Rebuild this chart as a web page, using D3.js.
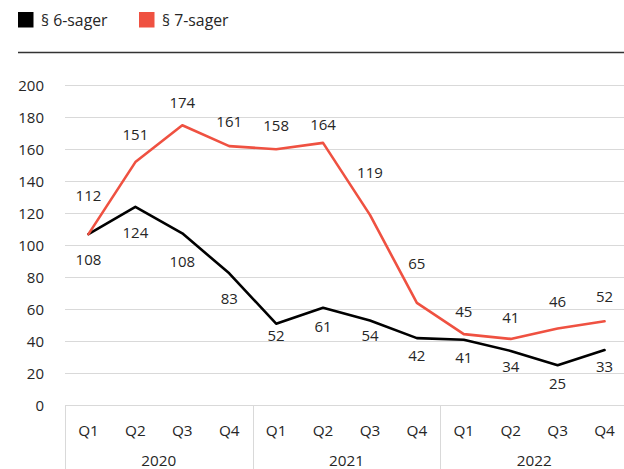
<!DOCTYPE html>
<html>
<head>
<meta charset="utf-8">
<script src="https://cdn.jsdelivr.net/npm/d3@7"></script>
<style>
  body { margin: 0; background: #fff; }
  svg text { font-family: "Open Sans", "Noto Sans", sans-serif; fill: #262626; }
</style>
</head>
<body>
<div id="chart"></div>
<script>
// data
const years      = ["2020", "2021", "2022"];
const quarters   = ["Q1", "Q2", "Q3", "Q4"];
const seriesNames = ["§ 6-sager", "§ 7-sager"];
const yTicks     = [0, 20, 40, 60, 80, 100, 120, 140, 160, 180, 200];

// line positions as drawn
const sag6 = [107, 124, 107.5, 82.5, 51, 61, 53, 42, 41, 34, 25, 34.5];
const sag7 = [107, 152, 175, 162, 160, 164, 119, 64, 44.5, 41.5, 48, 52.5];
// printed data labels
const sag6Labels = [108, 124, 108, 83, 52, 61, 54, 42, 41, 34, 25, 33];
const sag7Labels = [112, 151, 174, 161, 158, 164, 119, 65, 45, 41, 46, 52];
// label nudges (px), as placed in the source chart
const sag6Dy = [26, 26, 28, 25, 12, 19, 15, 18, 18, 16, 18, 17];
const sag7Dy = [-38, -27, -23, -24, -24, -18, -42, -39, -22, -21, -27, -25];

const colors = ["#000000", "#ef5141"];

const W = 624, H = 469;
const plotL = 65, plotR = 628, plotT = 85.3, plotB = 405.3;

const keys = [];
years.forEach(y => quarters.forEach(q => keys.push(y + " " + q)));

const svg = d3.select("#chart").append("svg")
  .attr("width", W).attr("height", H);

const x = d3.scaleBand().domain(keys).range([plotL, plotR]).padding(0);
const y = d3.scaleLinear().domain([0, 200]).range([plotB, plotT]);

// legend
const leg = svg.append("g").attr("class", "legend");
const legX = [18, 139];
seriesNames.forEach((name, i) => {
  leg.append("rect")
    .attr("x", legX[i]).attr("y", 12)
    .attr("width", 15.5).attr("height", 15.5)
    .attr("fill", colors[i]);
  leg.append("text")
    .attr("x", legX[i] + 23).attr("y", 20)
    .attr("dy", "0.35em")
    .style("font-size", "15.8px")
    .text(name);
});
svg.append("line")
  .attr("x1", 18).attr("x2", W)
  .attr("y1", 52.5).attr("y2", 52.5)
  .attr("stroke", "#333").attr("stroke-width", 1.3);

// gridlines
svg.append("g").selectAll("line")
  .data(yTicks)
  .join("line")
    .attr("x1", plotL).attr("x2", plotR)
    .attr("y1", d => Math.round(y(d)) + 0.5)
    .attr("y2", d => Math.round(y(d)) + 0.5)
    .attr("stroke", "#d9d9d9").attr("stroke-width", 1);

// y axis labels
const yAxis = svg.append("g")
  .attr("transform", "translate(" + 44 + ",0)")
  .call(d3.axisLeft(y).tickValues(yTicks).tickSize(0).tickPadding(0));
yAxis.select(".domain").remove();
yAxis.selectAll("text")
  .style("font-size", "15px")
  .attr("fill", "#262626");

// x axis: quarter labels, year labels, group separators
const xg = svg.append("g");
xg.selectAll(".q")
  .data(keys)
  .join("text")
    .attr("class", "q")
    .attr("x", d => x(d) + x.bandwidth() / 2)
    .attr("y", 431)
    .attr("dy", "0.35em")
    .attr("text-anchor", "middle")
    .style("font-size", "15.3px")
    .text(d => d.split(" ")[1]);

xg.selectAll(".yr")
  .data(years)
  .join("text")
    .attr("class", "yr")
    .attr("x", d => (x(d + " Q1") + x(d + " Q4") + x.bandwidth()) / 2)
    .attr("y", 461)
    .attr("dy", "0.35em")
    .attr("text-anchor", "middle")
    .style("font-size", "15.3px")
    .text(d => d);

xg.selectAll(".sep")
  .data(years.concat(["end"]))
  .join("line")
    .attr("class", "sep")
    .attr("x1", d => Math.round(d === "end" ? plotR : x(d + " Q1")) + 0.5)
    .attr("x2", d => Math.round(d === "end" ? plotR : x(d + " Q1")) + 0.5)
    .attr("y1", Math.round(plotB)).attr("y2", H)
    .attr("stroke", "#d9d9d9").attr("stroke-width", 1);

// lines
const series = [
  { vals: sag6, labels: sag6Labels, dy: sag6Dy, color: colors[0] },
  { vals: sag7, labels: sag7Labels, dy: sag7Dy, color: colors[1] }
];

const line = d3.line()
  .x((d, i) => x(keys[i]) + x.bandwidth() / 2)
  .y(d => y(d));

svg.append("g").selectAll("path")
  .data(series)
  .join("path")
    .attr("d", s => line(s.vals))
    .attr("fill", "none")
    .attr("stroke", s => s.color)
    .attr("stroke-width", 2.6)
    .attr("stroke-linejoin", "round")
    .attr("stroke-linecap", "round");

// data labels
series.forEach(s => {
  svg.append("g").selectAll("text")
    .data(s.vals)
    .join("text")
      .attr("x", (d, i) => x(keys[i]) + x.bandwidth() / 2)
      .attr("y", (d, i) => y(d) + s.dy[i])
      .attr("dy", "0.35em")
      .attr("text-anchor", "middle")
      .style("font-size", "15px")
      .text((d, i) => s.labels[i]);
});
</script>
</body>
</html>
